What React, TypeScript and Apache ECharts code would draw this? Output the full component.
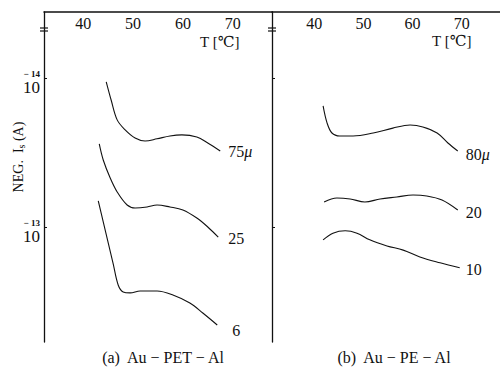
import React, { useEffect, useRef } from "react";
import * as echarts from "echarts";

// Panel (a) Au-PET-Al : temperature (°C) and negative current (A)
const a75T = [44.6, 45.6, 46.8, 48.4, 50.4, 52.4, 54.8, 57.4, 59.8, 62.8, 65.0, 67.5];
const a75I = [1.06e-14, 1.41e-14, 1.91e-14, 2.23e-14, 2.53e-14, 2.65e-14, 2.56e-14, 2.45e-14, 2.41e-14, 2.49e-14, 2.73e-14, 3.09e-14];
const a25T = [43.2, 44.0, 45.4, 46.8, 48.8, 50.4, 52.8, 54.8, 57.4, 60.0, 62.8, 65.0, 67.1];
const a25I = [2.77e-14, 3.55e-14, 4.69e-14, 5.82e-14, 7.12e-14, 7.45e-14, 7.34e-14, 7.12e-14, 7.34e-14, 7.69e-14, 8.71e-14, 1.0e-13, 1.17e-13];
const a6T = [43.0, 44.0, 45.0, 46.0, 47.0, 48.0, 49.4, 51.4, 54.8, 58.0, 61.4, 64.0, 66.9];
const a6I = [6.69e-14, 9.25e-14, 1.28e-13, 1.77e-13, 2.45e-13, 2.73e-13, 2.77e-13, 2.69e-13, 2.69e-13, 2.86e-13, 3.24e-13, 3.78e-13, 4.55e-13];

// Panel (b) Au-PE-Al
const b80T = [41.8, 42.6, 43.6, 45.2, 47.9, 52.0, 56.0, 59.5, 62.1, 65.0, 67.2, 69.2];
const b80I = [1.54e-14, 2.0e-14, 2.34e-14, 2.45e-14, 2.45e-14, 2.34e-14, 2.17e-14, 2.07e-14, 2.13e-14, 2.34e-14, 2.73e-14, 3.09e-14];
const b20T = [42.0, 44.6, 47.3, 50.3, 53.4, 56.8, 60.1, 62.9, 66.0, 69.2];
const b20I = [6.79e-14, 6.39e-14, 6.49e-14, 6.79e-14, 6.49e-14, 6.29e-14, 6.1e-14, 6.19e-14, 6.59e-14, 7.69e-14];
const b10T = [41.8, 43.8, 46.3, 48.7, 51.3, 54.8, 58.1, 61.5, 65.6, 69.6];
const b10I = [1.22e-13, 1.1e-13, 1.06e-13, 1.1e-13, 1.22e-13, 1.34e-13, 1.43e-13, 1.59e-13, 1.74e-13, 1.88e-13];

const tempTicks = [40, 50, 60, 70];
const currentTicks = [1e-14, 1e-13];
const panelCaptions = ["(a)  Au − PET − Al", "(b)  Au − PE − Al"];
const axisTitle = "T [℃]";

const FONT = "'Liberation Serif', 'DejaVu Serif', serif";
const INK = "#111";

const zip = (t: number[], v: number[]) => t.map((x, i) => [x, v[i]]);

export default function App() {
  const ref = useRef<HTMLDivElement>(null);
  useEffect(() => {
    if (!ref.current) return;
    const chart = echarts.init(ref.current, null, { renderer: "svg" });

    const yMin = 3.606e-15;
    const yMax = 5.916e-13;

    const xAxisBase = (idx: number, min: number, max: number) => ({
      type: "value",
      gridIndex: idx,
      position: "top",
      min,
      max,
      axisLine: { show: true, lineStyle: { color: INK, width: 1.5 } },
      axisTick: { show: false },
      splitLine: { show: false },
      axisLabel: {
        show: true,
        inside: true,
        margin: 3,
        customValues: tempTicks,
        fontFamily: FONT,
        fontSize: 16,
        color: INK,
      },
    });

    const yAxisBase = (idx: number, showLabel: boolean) => ({
      type: "log",
      logBase: 10,
      gridIndex: idx,
      inverse: true,
      min: yMin,
      max: yMax,
      axisLine: { show: true, lineStyle: { color: INK, width: 1.3 } },
      axisTick: { show: true, inside: true, length: 3, customValues: currentTicks, lineStyle: { color: INK } },
      splitLine: { show: false },
      minorTick: { show: false },
      axisLabel: {
        show: showLabel,
        margin: 4,
        padding: [8, 0, 0, 0],
        customValues: currentTicks,
        formatter: (v: number) => {
          const e = Math.round(Math.log10(v));
          return `{sup|− ${-e}}\n{base|10}`;
        },
        rich: {
          sup: { fontFamily: FONT, fontSize: 9, fontWeight: "bold", color: INK, lineHeight: 11, align: "right" },
          base: { fontFamily: FONT, fontSize: 17, color: INK, lineHeight: 16, align: "right" },
        },
      },
    });

    const lineSeries = (
      name: string,
      idx: number,
      data: number[][],
      label: string,
      offset: number[]
    ) => ({
      type: "line",
      name,
      xAxisIndex: idx,
      yAxisIndex: idx,
      data,
      smooth: 0.35,
      showSymbol: false,
      symbol: "none",
      lineStyle: { color: INK, width: 1.1 },
      endLabel: {
        show: true,
        formatter: label,
        distance: 6,
        offset,
        rich: {
          n: { fontFamily: FONT, fontSize: 16, color: INK },
          mu: { fontFamily: FONT, fontSize: 16, fontStyle: "italic", color: INK },
        },
      },
    });

    const breakMark = (x: number, y: number) => [
      { type: "line", shape: { x1: x - 4, y1: y, x2: x + 4, y2: y }, style: { stroke: INK, lineWidth: 1.2 } },
      { type: "line", shape: { x1: x - 4, y1: y + 3, x2: x + 4, y2: y + 3 }, style: { stroke: INK, lineWidth: 1.2 } },
    ];

    chart.setOption({
      animation: false,
      backgroundColor: "#ffffff",
      grid: [
        { left: 44, top: 12, width: 228, height: 330 },
        { left: 272, top: 12, width: 228, height: 330 },
      ],
      xAxis: [xAxisBase(0, 32.1, 77.9), xAxisBase(1, 31.4, 77.8)],
      yAxis: [yAxisBase(0, true), yAxisBase(1, false)],
      series: [
        lineSeries("75μ", 0, zip(a75T, a75I), "{n|75}{mu|μ}", [2, 1]),
        lineSeries("25", 0, zip(a25T, a25I), "{n|25}", [4, 1]),
        lineSeries("6", 0, zip(a6T, a6I), "{n|6}", [9, 5]),
        lineSeries("80μ", 1, zip(b80T, b80I), "{n|80}{mu|μ}", [2, 4]),
        lineSeries("20", 1, zip(b20T, b20I), "{n|20}", [2, 3]),
        lineSeries("10", 1, zip(b10T, b10I), "{n|10}", [0, 2]),
      ],
      graphic: [
        ...breakMark(44, 28),
        ...breakMark(272, 28),
        {
          type: "text",
          x: 200,
          y: 42,
          style: { text: axisTitle, fontFamily: FONT, fontSize: 15, fill: INK, verticalAlign: "middle" },
        },
        {
          type: "text",
          x: 432,
          y: 41,
          style: { text: axisTitle, fontFamily: FONT, fontSize: 15, fill: INK, verticalAlign: "middle" },
        },
        {
          type: "text",
          x: 18,
          y: 157,
          rotation: Math.PI / 2,
          style: {
            text: "{t|NEG.  I}{s|s}{t| (A)}",
            align: "center",
            verticalAlign: "middle",
            rich: {
              t: { fontFamily: FONT, fontSize: 14, fill: INK, color: INK },
              s: { fontFamily: FONT, fontSize: 10, fill: INK, color: INK, padding: [6, 0, 0, 0] },
            },
          },
        },
        {
          type: "text",
          x: 163,
          y: 357,
          style: { text: panelCaptions[0], fontFamily: FONT, fontSize: 16, fill: INK, align: "center", verticalAlign: "middle" },
        },
        {
          type: "text",
          x: 394,
          y: 357,
          style: { text: panelCaptions[1], fontFamily: FONT, fontSize: 16, fill: INK, align: "center", verticalAlign: "middle" },
        },
      ],
    });
    return () => chart.dispose();
  }, []);
  return (
    <div
      ref={ref}
      style={{ position: "fixed", left: 0, top: 0, width: 500, height: 384, background: "#fff" }}
    />
  );
}
